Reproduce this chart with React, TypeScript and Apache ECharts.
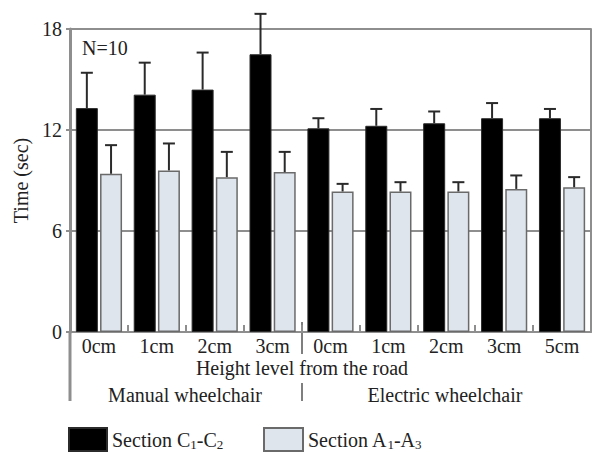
import React, { useEffect, useRef } from "react";
import * as echarts from "echarts";

const categories = ["0cm", "1cm", "2cm", "3cm", "0cm", "1cm", "2cm", "3cm", "5cm"];
const groupLabels = ["Manual wheelchair", "Electric wheelchair"];
const yTicks = [0, 6, 12, 18];

const meanC = [13.3, 14.1, 14.4, 16.5, 12.1, 12.25, 12.4, 12.7, 12.7];
const sdC = [2.1, 1.9, 2.2, 2.4, 0.6, 1.0, 0.7, 0.9, 0.55];
const meanA = [9.4, 9.6, 9.2, 9.5, 8.35, 8.35, 8.35, 8.5, 8.6];
const sdA = [1.7, 1.6, 1.5, 1.2, 0.45, 0.55, 0.55, 0.8, 0.6];

const nameC = "Section C1-C2";
const nameA = "Section A1-A3";

const FONT = "Liberation Serif";
const TXT = "#222";
const GRID = "#8e8e8e";
const BAR_W = 22;
const GAP_PCT = 0.1;

function errSeries(name: string, means: number[], sds: number[], side: number) {
  return {
    type: "custom",
    name,
    z: 5,
    clip: false,
    silent: true,
    data: means.map((m, i) => [i, m, sds[i]]),
    renderItem: (_p: any, api: any) => {
      const i = api.value(0);
      const m = api.value(1);
      const s = api.value(2);
      const base = api.coord([i, m]);
      const top = api.coord([i, m + s]);
      const x = base[0] + (side * (BAR_W + BAR_W * GAP_PCT)) / 2;
      const st = { stroke: "#2a2a2a", lineWidth: 2 };
      return {
        type: "group",
        children: [
          { type: "line", shape: { x1: x, y1: base[1], x2: x, y2: top[1] }, style: st },
          { type: "line", shape: { x1: x - 6, y1: top[1], x2: x + 6, y2: top[1] }, style: st },
        ],
      };
    },
  };
}

export default function App() {
  const ref = useRef<HTMLDivElement>(null);
  useEffect(() => {
    if (!ref.current) return;
    const chart = echarts.init(ref.current, undefined, { renderer: "svg" });
    const legendText = {
      fontFamily: FONT,
      fontSize: 20,
      lineHeight: 22,
      color: TXT,
      rich: {
        s: { fontFamily: FONT, fontSize: 13, lineHeight: 22, color: TXT, verticalAlign: "bottom", padding: [4, 0, 0, 0] },
      },
    };
    const fmt = (n: string) =>
      n === nameC ? "Section C{s|1}-C{s|2}" : "Section A{s|1}-A{s|3}";
    chart.setOption({
      animation: false,
      backgroundColor: "#ffffff",
      grid: { left: 70, right: 1, top: 29, bottom: 120 },
      legend: [
        {
          data: [nameC],
          left: 68,
          top: 427,
          padding: 0,
          icon: "rect",
          itemWidth: 38,
          itemHeight: 23,
          textStyle: legendText,
          formatter: fmt,
          selectedMode: false,
        },
        {
          data: [nameA],
          left: 263,
          top: 427,
          padding: 0,
          icon: "rect",
          itemWidth: 39,
          itemHeight: 23,
          textStyle: legendText,
          formatter: fmt,
          selectedMode: false,
        },
      ],
      xAxis: {
        type: "category",
        data: categories,
        axisLine: { show: true, lineStyle: { color: GRID, width: 2 } },
        axisTick: { show: true, inside: true, length: 7, lineStyle: { color: GRID, width: 2 } },
        axisLabel: { fontFamily: FONT, fontSize: 20, color: TXT, margin: 4, interval: 0 },
      },
      yAxis: [
        {
          type: "value",
          min: 0,
          max: 18,
          interval: 6,
          name: "Time (sec)",
          nameLocation: "middle",
          nameGap: 34,
          nameTextStyle: { fontFamily: FONT, fontSize: 20, color: TXT },
          axisLine: { show: true, lineStyle: { color: GRID, width: 3 } },
          axisTick: { show: true, length: 4, lineStyle: { color: GRID, width: 2 } },
          axisLabel: {
            fontFamily: FONT,
            fontSize: 20,
            color: TXT,
            margin: 8,
            formatter: (v: number) => (yTicks.includes(v) ? String(v) : ""),
          },
          splitLine: { show: true, lineStyle: { color: GRID, width: 2 } },
        },
        {
          type: "value",
          min: 0,
          max: 18,
          interval: 6,
          position: "right",
          axisLine: { show: true, lineStyle: { color: GRID, width: 2 } },
          axisTick: { show: false },
          axisLabel: { show: false },
          splitLine: { show: false },
        },
      ],
      series: [
        {
          type: "bar",
          name: nameC,
          data: meanC,
          barWidth: BAR_W,
          barGap: `${GAP_PCT * 100}%`,
          itemStyle: { color: "#000000", borderColor: "#2b2b2b", borderWidth: 1 },
        },
        {
          type: "bar",
          name: nameA,
          data: meanA,
          barWidth: BAR_W,
          barGap: `${GAP_PCT * 100}%`,
          itemStyle: { color: "#dfe5ed", borderColor: "#6a6a6a", borderWidth: 1.5 },
        },
        errSeries("errC", meanC, sdC, -1),
        errSeries("errA", meanA, sdA, 1),
      ],
      graphic: [
        {
          type: "text",
          left: 82,
          top: 38,
          style: { text: "N=10", fontFamily: FONT, fontSize: 20, fill: TXT },
        },
        {
          type: "text",
          x: 302,
          y: 368,
          style: {
            text: "Height level from the road",
            fontFamily: FONT,
            fontSize: 20,
            fill: TXT,
            align: "center",
            verticalAlign: "middle",
          },
        },
        {
          type: "text",
          x: 185,
          y: 395,
          style: {
            text: groupLabels[0],
            fontFamily: FONT,
            fontSize: 20,
            fill: TXT,
            align: "center",
            verticalAlign: "middle",
          },
        },
        {
          type: "text",
          x: 445,
          y: 395,
          style: {
            text: groupLabels[1],
            fontFamily: FONT,
            fontSize: 20,
            fill: TXT,
            align: "center",
            verticalAlign: "middle",
          },
        },
        {
          type: "line",
          shape: { x1: 70, y1: 332, x2: 70, y2: 401 },
          style: { stroke: GRID, lineWidth: 3 },
        },
        {
          type: "line",
          shape: { x1: 302, y1: 322, x2: 302, y2: 354 },
          style: { stroke: "#555", lineWidth: 1.5 },
        },
        {
          type: "line",
          shape: { x1: 302, y1: 383, x2: 302, y2: 401 },
          style: { stroke: "#555", lineWidth: 1.5 },
        },
      ],
    });
    return () => chart.dispose();
  }, []);
  return (
    <div
      ref={ref}
      style={{ position: "absolute", left: 0, top: 0, width: 592, height: 452, background: "#fff" }}
    />
  );
}
